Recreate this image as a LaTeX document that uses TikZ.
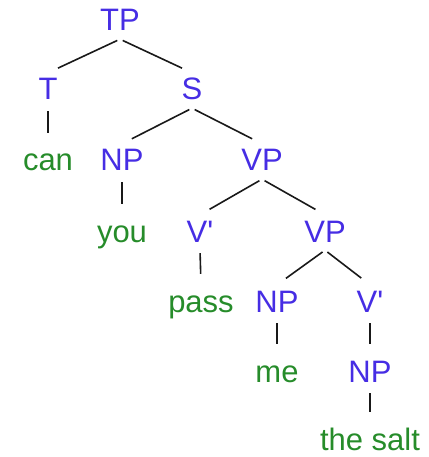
\documentclass[tikz,border=0pt]{standalone}
\usepackage{fontspec}
\setmainfont{Liberation Sans}
\usepackage{xcolor}
\definecolor{catblue}{RGB}{70,45,228}
\definecolor{wordgreen}{RGB}{38,140,42}
\usepackage{tikz}
\usetikzlibrary{positioning}

\begin{document}
\begin{tikzpicture}[x=1pt, y=1pt,
  cat/.style={anchor=base, text=catblue, inner xsep=0pt, inner ysep=4pt, text height=23pt, text depth=4pt, font=\fontsize{31}{36}\selectfont},
  word/.style={cat, text=wordgreen},
  branch/.style={draw=black!90, line width=1.6pt, shorten >=11pt, shorten <=3pt}]
  \useasboundingbox (0,0) rectangle (428,-457);
  % categories and words, placed on their baselines
  \node[cat]  (tp)    at (120,-31)  {TP};
  \node[cat]  (t)     at (48,-100)  {T};
  \node[cat]  (s)     at (192,-100) {S};
  \node[word] (can)   at (48,-171)  {can};
  \node[cat]  (np1)   at (122,-171) {NP};
  \node[cat]  (vp1)   at (262,-171) {VP};
  \node[word] (you)   at (122,-242) {you};
  \node[cat]  (vbar1) at (200,-242) {V\textquotesingle};
  \node[cat]  (vp2)   at (325,-242) {VP};
  \node[word] (pass)  at (201,-312) {pass};
  \node[cat]  (np2)   at (277,-312) {NP};
  \node[cat]  (vbar2) at (370,-312) {V\textquotesingle};
  \node[word] (me)    at (277,-382) {me};
  \node[cat]  (np3)   at (370,-382) {NP};
  \node[word] (salt)  at (370,-450) {the salt};
  % branches
  \draw[branch] (tp.south) -- (t.north);
  \draw[branch] (tp.south) -- (s.north);
  \draw[branch] (t.south) -- (can.north);
  \draw[branch] (s.south) -- (np1.north);
  \draw[branch] (s.south) -- (vp1.north);
  \draw[branch] (np1.south) -- (you.north);
  \draw[branch] (vp1.south) -- (vbar1.north);
  \draw[branch] (vp1.south) -- (vp2.north);
  \draw[branch] (vbar1.south) -- (pass.north);
  \draw[branch] (vp2.south) -- (np2.north);
  \draw[branch] (vp2.south) -- (vbar2.north);
  \draw[branch] (np2.south) -- (me.north);
  \draw[branch] (vbar2.south) -- (np3.north);
  \draw[branch] (np3.south) -- (salt.north);
\end{tikzpicture}
\end{document}
